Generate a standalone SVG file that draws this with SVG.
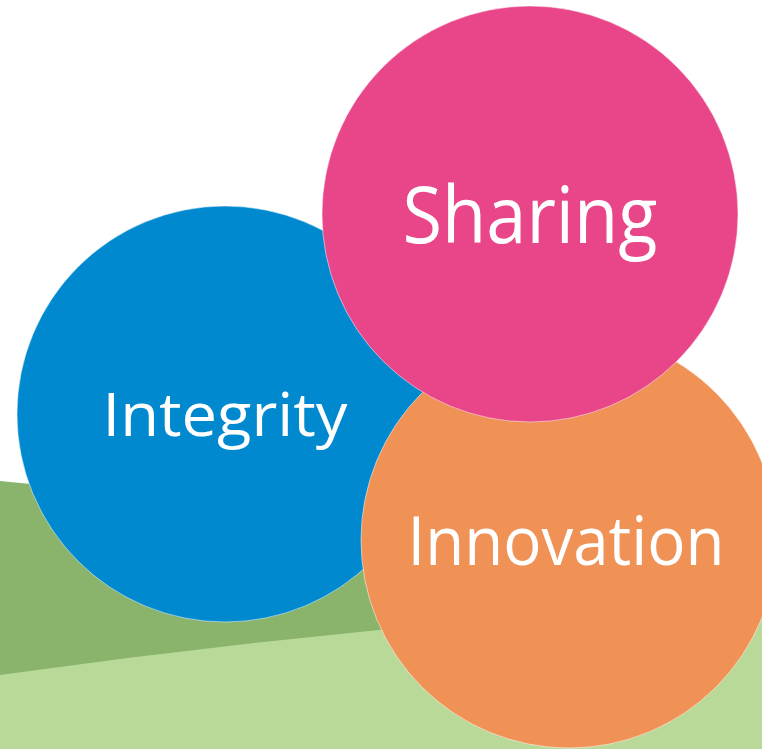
<svg xmlns="http://www.w3.org/2000/svg" width="762" height="749" viewBox="0 0 762 749">
  <style>
    .lbl { font-family: "Open Sans", "Noto Sans", "Liberation Sans", sans-serif; fill: #ffffff; text-anchor: middle; }
    .disc { stroke: #ffffff; stroke-width: 1; stroke-opacity: 0.5; }
  </style>
  <rect width="762" height="749" fill="#ffffff"/>
  <g id="hills">
    <path d="M0,481 L400,520 L762,560 L762,749 L0,749 Z" fill="#8ab46c"/>
    <path d="M0,675 Q380,622 762,600 L762,749 L0,749 Z" fill="#b9d998"/>
  </g>
  <g id="connectors"/>
  <g id="integrity">
    <circle class="disc" cx="225" cy="414" r="208" fill="#0089cf"/>
    <text class="lbl" x="225" y="436" font-size="61" textLength="245" lengthAdjust="spacingAndGlyphs">Integrity</text>
  </g>
  <g id="innovation">
    <circle class="disc" cx="569" cy="540" r="208" fill="#f09155"/>
    <text class="lbl" x="566" y="565" font-size="67" textLength="317" lengthAdjust="spacingAndGlyphs">Innovation</text>
  </g>
  <g id="sharing">
    <circle class="disc" cx="530" cy="214" r="208" fill="#e84688"/>
    <text class="lbl" x="530" y="243" font-size="79" textLength="255" lengthAdjust="spacingAndGlyphs">Sharing</text>
  </g>
</svg>
